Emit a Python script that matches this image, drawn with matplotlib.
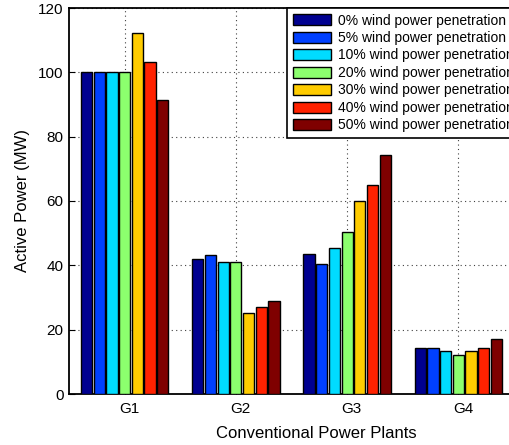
import matplotlib
matplotlib.use("Agg")
import matplotlib.pyplot as plt
import matplotlib.transforms as mtransforms
import numpy as np

plt.rcParams['font.family'] = ['Liberation Sans', 'DejaVu Sans']

plants = ['G1', 'G2', 'G3', 'G4']
series_labels = ['0% wind power penetration', '5% wind power penetration',
                 '10% wind power penetration', '20% wind power penetration',
                 '30% wind power penetration', '40% wind power penetration',
                 '50% wind power penetration']
p0 = [100, 42, 43.4, 14.4]
p5 = [100, 43.3, 40.3, 14.4]
p10 = [100, 41, 45.3, 13.3]
p20 = [100, 41, 50.4, 12.2]
p30 = [112.3, 25.2, 60, 13.3]
p40 = [103.3, 27.2, 65, 14.4]
p50 = [91.3, 29, 74.3, 17.1]
series = [p0, p5, p10, p20, p30, p40, p50]
colors = ['#000090', '#0040ff', '#00dcff', '#8cff6e', '#ffcc00', '#ff2200', '#7f0000']

fig = plt.figure(figsize=(5.09, 4.45), dpi=100)
ax = fig.add_axes([69/509, 51/445, 445/509, 386/445])

x = np.arange(1, len(plants) + 1)
n = len(series)
slot = 0.8 / n
bw = slot * 0.88
for i, (vals, c, lab) in enumerate(zip(series, colors, series_labels)):
    offs = (i - (n - 1) / 2) * slot
    ax.bar(x + offs, vals, width=bw, color=c, edgecolor='black', linewidth=1.0,
           label=lab, zorder=3)

ax.set_xlim(0.5, 4.5)
ax.set_ylim(0, 120)
ax.set_xticks(x)
ax.set_xticklabels(plants)
ax.set_yticks(np.arange(0, 121, 20))
ax.tick_params(direction='in', length=4, labelsize=11, width=0.8)
ax.tick_params(axis='x', pad=6)
ax.tick_params(axis='y', pad=4)
shift = mtransforms.ScaledTranslation(4.5 / 100, 0, fig.dpi_scale_trans)
for lbl in ax.get_xticklabels():
    lbl.set_transform(lbl.get_transform() + shift)
ax.grid(True, linestyle=(0, (1, 3)), color='0.25', linewidth=0.8, zorder=0)
for s in ax.spines.values():
    s.set_linewidth(1.3)

ax.set_xlabel('Conventional Power Plants', fontsize=12)
ax.xaxis.set_label_coords((316 - 69) / 445, -(426 - 394) / 386)
ax.set_ylabel('Active Power (MW)', fontsize=12, labelpad=6)

leg = ax.legend(loc='upper left', bbox_to_anchor=((287 - 69) / 445, 1.0),
                fontsize=10, frameon=True, fancybox=False, borderaxespad=0,
                handlelength=2.8, handleheight=0.85, handletextpad=0.45,
                labelspacing=0.25, borderpad=0.4)
leg.get_frame().set_edgecolor('black')
leg.get_frame().set_linewidth(1.2)
leg.get_frame().set_alpha(1)

fig.savefig('out.png', dpi=100)
